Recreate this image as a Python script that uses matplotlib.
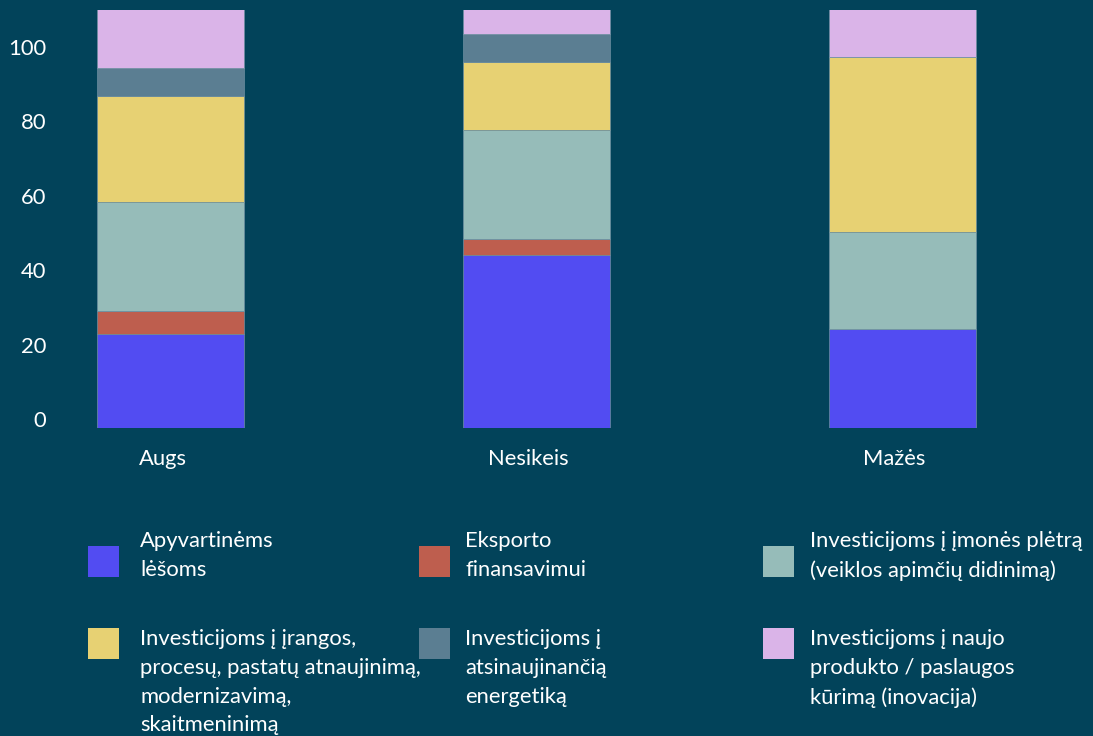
import matplotlib
matplotlib.use('Agg')
import matplotlib.pyplot as plt
import matplotlib.transforms as mtransforms
from matplotlib.patches import Rectangle
import numpy as np

plt.rcParams['font.family'] = ['Lato', 'DejaVu Sans']

categories = ['Augs', 'Nesikeis', 'Mažės']
series_names = ['Apyvartinėms\nlėšoms',
                'Eksporto\nfinansavimui',
                'Investicijoms į įmonės plėtrą\n(veiklos apimčių didinimą)',
                'Investicijoms į įrangos,\nprocesų, pastatų atnaujinimą,\nmodernizavimą,\nskaitmeninimą',
                'Investicijoms į\natsinaujinančią\nenergetiką',
                'Investicijoms į naujo\nprodukto / paslaugos\nkūrimą (inovacija)']
apyvartinems = [25.3, 46.5, 26.5]
eksporto = [6.2, 4.3, 0.0]
pletra = [29.2, 29.2, 26.1]
irangos = [28.5, 18.4, 47.1]
energetika = [7.5, 7.6, 0.0]
inovacija = [16.0, 7.0, 13.0]
yticks = [0, 20, 40, 60, 80, 100]

colors = ['#524cf2', '#be5e4e', '#96bcb9', '#e7d173', '#5b7e92', '#dab4e8']
bg = '#02435a'
txt = '#ffffff'
fs = 15.8

series = [apyvartinems, eksporto, pletra, irangos, energetika, inovacija]

fig = plt.figure(figsize=(10.93, 7.36), dpi=100, facecolor=bg)
W, H = 1093, 736
ax = fig.add_axes([60 / W, (H - 428) / H, (W - 60) / W, 418 / H])
ax.set_facecolor(bg)

x = np.arange(len(categories))
bottom = np.zeros(len(categories))
for vals, c in zip(series, colors):
    ax.bar(x, vals, 0.40, bottom=bottom, color=c, edgecolor='#6d8fa0', linewidth=0.5)
    bottom += np.array(vals)

ax.set_xlim(-0.302, 2.52)
ax.set_ylim(0, 112.4)
ax.set_yticks(yticks)
ax.set_xticks(x)
ax.set_xticklabels(categories)
for s in ax.spines.values():
    s.set_visible(False)
ax.tick_params(axis='both', length=0, colors=txt, labelsize=fs)
ax.tick_params(axis='x', pad=15)
ax.tick_params(axis='y', pad=10)
offset = mtransforms.ScaledTranslation(0, 9 / 100, fig.dpi_scale_trans)
for lab in ax.get_yticklabels():
    lab.set_transform(lab.get_transform() + offset)
xoff = mtransforms.ScaledTranslation(-8 / 100, 0, fig.dpi_scale_trans)
for lab in ax.get_xticklabels():
    lab.set_transform(lab.get_transform() + xoff)

# legend, 3 columns x 2 rows
sq_x = [88, 419, 763]
tx_x = [140, 465, 810]
sq_top = [546, 628]
tx_top = [531, 629]
sq = 31
for i, (name, c) in enumerate(zip(series_names, colors)):
    r, col = divmod(i, 3)
    fig.add_artist(Rectangle((sq_x[col] / W, (H - sq_top[r] - sq) / H), sq / W, sq / H,
                             transform=fig.transFigure, facecolor=c, edgecolor='none'))
    fig.text(tx_x[col] / W, (H - tx_top[r]) / H, name, color=txt, fontsize=fs,
             va='top', ha='left', linespacing=1.55)

fig.savefig('out.png', dpi=100, facecolor=bg)
